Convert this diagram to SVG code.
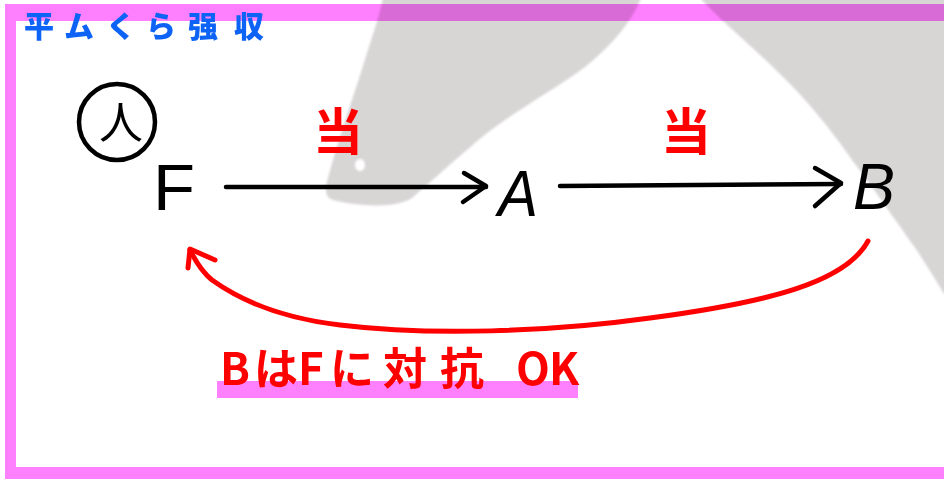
<svg xmlns="http://www.w3.org/2000/svg" width="944" height="479" viewBox="0 0 944 479">
  <style>
    .pink { fill: #ff80ff; mix-blend-mode: multiply; }
    .blk { stroke: #000; stroke-width: 4.5; fill: none; stroke-linecap: round; stroke-linejoin: round; }
    .red { stroke: #ff0000; stroke-width: 5; fill: none; stroke-linecap: round; stroke-linejoin: round; }
    .node { font-family: "Liberation Sans", "DejaVu Sans", sans-serif; font-size: 64px; fill: #000; }
    .rtxt { font-family: "Noto Sans CJK JP", "Noto Sans", sans-serif; font-weight: bold; fill: #ff0000; }
    .title { font-family: "Noto Sans CJK JP", "Noto Sans", sans-serif; font-weight: 900; font-size: 30px; fill: #0d63f5; }
  </style>
  <defs>
    <filter id="soft" x="-5%" y="-5%" width="110%" height="110%">
      <feGaussianBlur stdDeviation="1.2"/>
    </filter>
  </defs>
  <rect width="944" height="479" fill="#ffffff"/>
  <!-- background watermark -->
  <g id="watermark" filter="url(#soft)">
    <path fill="#d8d5d5" d="M383,-4 L642,-4 C632,22 612,45 585,67 C560,86 520,108 487,133 C460,155 435,178 412,198 C398,208 360,207 333,200 C324,197 325,188 328,178 C338,140 355,92 368,50 C376,25 381,10 383,-4 Z"/>
    <path fill="#d8d5d5" d="M698,-4 L948,-4 L948,298 L943,292 C936,280 928,268 918,252 C908,238 900,226 893,217 C880,198 866,178 852,160 C830,128 805,98 780,74 C752,46 722,22 698,-4 Z"/>
    <ellipse cx="360" cy="165" rx="5" ry="6" fill="#ffffff"/>
  </g>
  <!-- frame -->
  <g id="frame">
    <rect class="pink" x="5" y="4" width="939" height="17"/>
    <rect class="pink" x="5" y="21" width="11" height="446"/>
    <rect class="pink" x="5" y="467" width="939" height="12"/>
  </g>
  <!-- title -->
  <g id="title">
    <text class="title" y="37"><tspan x="24">平</tspan><tspan x="64">ム</tspan><tspan x="106">く</tspan><tspan x="146">ら</tspan><tspan x="188">强</tspan><tspan x="234">収</tspan></text>
  </g>
  <!-- marker circle -->
  <g id="node-circle">
    <circle cx="117" cy="122" r="38" class="blk"/>
    <text x="121" y="139" text-anchor="middle" font-family="Noto Sans CJK JP, sans-serif" font-size="44" fill="#000">人</text>
  </g>
  <!-- nodes -->
  <g id="node-F"><text class="node" x="153" y="210" textLength="42" lengthAdjust="spacingAndGlyphs">F</text></g>
  <g id="node-A"><text class="node" x="498" y="216" textLength="40" lengthAdjust="spacingAndGlyphs" font-style="italic">A</text></g>
  <g id="node-B"><text class="node" x="853" y="209" textLength="42" lengthAdjust="spacingAndGlyphs" font-style="italic">B</text></g>
  <!-- connectors -->
  <g id="connectors">
    <path class="blk" d="M226,187 L486,187"/>
    <path class="blk" d="M464,173 L486,186 L463,202"/>
    <path class="blk" d="M560,186 L841,184"/>
    <path class="blk" d="M815,168 L841,183 L815,206"/>
    <path class="red" d="M868,241 C846,282 770,302 650,318 C550,332 430,336 340,325 C280,318 240,300 212,280 C202,272 196,262 190,250"/>
    <path class="red" d="M215,260 L190,249 L188,268"/>
  </g>
  <!-- edge labels -->
  <g id="labels">
    <text class="rtxt" x="338" y="150" font-size="50" text-anchor="middle">当</text>
    <text class="rtxt" x="686" y="150" font-size="50" text-anchor="middle">当</text>
  </g>
  <!-- note -->
  <g id="note">
    <rect x="217" y="381" width="361" height="17" fill="#ff80ff"/>
    <text class="rtxt" y="385" font-size="44"><tspan x="220">B</tspan><tspan x="254">は</tspan><tspan x="298">F</tspan><tspan x="330">に</tspan><tspan x="383">対</tspan><tspan x="440">抗</tspan><tspan x="516">O</tspan><tspan x="549">K</tspan></text>
  </g>
</svg>
